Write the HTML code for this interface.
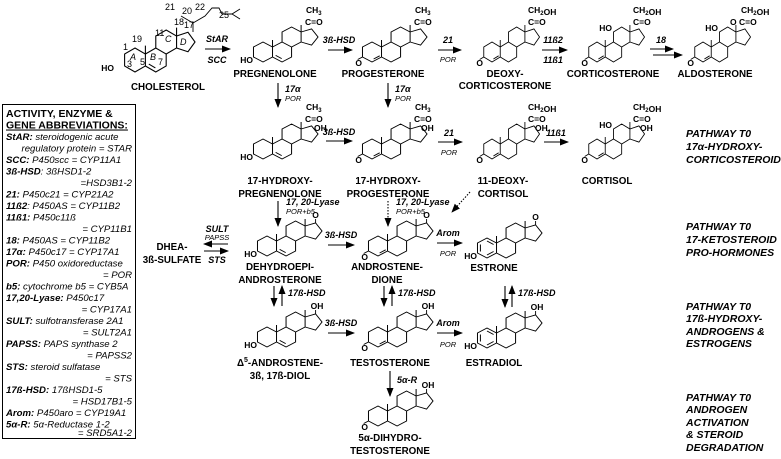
<!DOCTYPE html>
<html><head><meta charset="utf-8"><style>
html,body{margin:0;padding:0;background:#fff}
svg{display:block}
text{font-family:"Liberation Sans",Arial,sans-serif;fill:#000}
.l{font-size:9.8px;font-weight:bold;text-anchor:middle}
.s{font-size:8.5px;font-weight:bold}
.e{font-size:9px;font-weight:bold;font-style:italic}
.p{font-size:7.5px;font-style:italic}
.g{font-size:9.6px;font-style:italic}
.gb{font-weight:bold}
.r{font-size:10.5px;font-weight:bold;font-style:italic}
.n{font-size:9px}
</style></head><body>
<svg width="781" height="459" viewBox="0 0 781 459" xmlns="http://www.w3.org/2000/svg">
<defs>
<marker id="ah" markerWidth="9" markerHeight="8" refX="8" refY="3.5" orient="auto" markerUnits="userSpaceOnUse"><path d="M0,0 L9,3.5 L0,7 z" fill="#000"/></marker>
<g id="sk" fill="none" stroke="#000" stroke-width="0.9">
<path d="M0,-10 L8.66,-5 L8.66,5 L0,10 L-8.66,5 L-8.66,-5 Z"/>
<path d="M8.66,-5 L17.32,-10 L25.98,-5 L25.98,5 L17.32,10 L8.66,5"/>
<path d="M17.32,-10 L17.32,-20 L25.98,-25 L34.64,-20 L34.64,-10 L25.98,-5"/>
<path d="M34.64,-20 L44.15,-23.09 L50.03,-15 L44.15,-6.91 L34.64,-10"/>
<path d="M8.66,-5 L8.66,-12 M34.64,-20 L34.64,-27"/>
</g>
<g id="d5" stroke="#000" stroke-width="0.9"><path d="M11.5,3.4 L17,6.6"/></g>
<g id="d4" stroke="#000" stroke-width="0.9"><path d="M1.5,7 L7,3.8 M-8.66,5 L-13,7.5"/></g>
<g id="ar" stroke="#000" stroke-width="0.9"><path d="M0,-7 L6,-3.5 M6,3.5 L0,7 M-6,3.5 L-6,-3.5"/></g>
</defs>

<!-- Cholesterol -->
<g transform="translate(135,60) scale(1.2)"><use href="#sk"/><use href="#d5"/></g>
<path d="M193,32 L193,23 L181,16 M193,23 L205,16 L212,8 L219,8 L222,14 L232,14 L240,9 M232,14 L240,19" fill="none" stroke="#000" stroke-width="0.9"/>
<text class="n" x="165" y="10">21</text><text class="n" x="182" y="14">20</text><text class="n" x="195" y="10">22</text><text class="n" x="219" y="18">25</text>
<text class="n" x="174" y="25">18</text><text class="n" x="184" y="28">17</text><text class="n" x="155" y="36">11</text>
<text class="n" x="132" y="42">19</text><text class="n" x="123" y="50">1</text><text class="n" x="127" y="67">3</text>
<text class="n" x="140" y="65">5</text><text class="n" x="158" y="65">7</text>
<text class="n" x="130" y="60" font-style="italic">A</text><text class="n" x="150" y="60" font-style="italic">B</text>
<text class="n" x="165" y="42" font-style="italic">C</text><text class="n" x="180" y="45" font-style="italic">D</text>
<text class="s" x="114" y="71" text-anchor="end">HO</text>
<text class="l" x="168" y="90">CHOLESTEROL</text>

<!-- Row 1 (Y=52) -->
<g transform="translate(263,52) scale(1.1,1)"><use href="#sk"/><use href="#d5"/></g>
<text class="s" x="253" y="63" text-anchor="end">HO</text>
<text class="s" x="305" y="25">C=O</text><text class="s" x="306" y="13">CH<tspan font-size="6" dy="2">3</tspan></text>
<text class="l" x="275" y="77">PREGNENOLONE</text>

<g transform="translate(372,52) scale(1.1,1)"><use href="#sk"/><use href="#d4"/></g>
<text class="s" x="362" y="66" text-anchor="end">O</text>
<text class="s" x="414" y="25">C=O</text><text class="s" x="415" y="13">CH<tspan font-size="6" dy="2">3</tspan></text>
<text class="l" x="383" y="77">PROGESTERONE</text>

<g transform="translate(492,52) scale(0.95,1)"><use href="#sk"/><use href="#d4"/></g>
<text class="s" x="483" y="66" text-anchor="end">O</text>
<text class="s" x="528" y="25">C=O</text><text class="s" x="528" y="13">CH<tspan font-size="6" dy="2">2</tspan>OH</text>
<text class="l" x="505" y="77">DEOXY-</text><text class="l" x="505" y="89">CORTICOSTERONE</text>

<g transform="translate(597,52) scale(0.95,1)"><use href="#sk"/><use href="#d4"/></g>
<text class="s" x="588" y="66" text-anchor="end">O</text>
<text class="s" x="612" y="31" text-anchor="end">HO</text>
<text class="s" x="633" y="25">C=O</text><text class="s" x="633" y="13">CH<tspan font-size="6" dy="2">2</tspan>OH</text>
<text class="l" x="613" y="77">CORTICOSTERONE</text>

<g transform="translate(703,52) scale(0.95,1)"><use href="#sk"/><use href="#d4"/></g>
<text class="s" x="694" y="66" text-anchor="end">O</text>
<text class="s" x="718" y="31" text-anchor="end">HO</text>
<text class="s" x="730" y="25">O C=O</text><text class="s" x="741" y="13">CH<tspan font-size="6" dy="2">2</tspan>OH</text>
<text class="l" x="715" y="77">ALDOSTERONE</text>

<!-- Row 1 arrows -->
<line x1="205" y1="49" x2="230" y2="49" stroke="#000" stroke-width="1.1" marker-end="url(#ah)"/>
<text class="e" x="217" y="42" text-anchor="middle">StAR</text><text class="e" x="217" y="63" text-anchor="middle">SCC</text>
<line x1="328" y1="50" x2="352" y2="50" stroke="#000" stroke-width="1.1" marker-end="url(#ah)"/>
<text class="e" x="339" y="43" text-anchor="middle">3ß-HSD</text>
<line x1="438" y1="50" x2="461" y2="50" stroke="#000" stroke-width="1.1" marker-end="url(#ah)"/>
<text class="e" x="448" y="43" text-anchor="middle">21</text><text class="p" x="448" y="62" text-anchor="middle">POR</text>
<line x1="542" y1="50" x2="567" y2="50" stroke="#000" stroke-width="1.1" marker-end="url(#ah)"/>
<text class="e" x="553" y="43" text-anchor="middle">11ß2</text><text class="e" x="553" y="63" text-anchor="middle">11ß1</text>
<line x1="650" y1="49" x2="673" y2="49" stroke="#000" stroke-width="1.1" marker-end="url(#ah)"/>
<line x1="653" y1="55" x2="682" y2="55" stroke="#000" stroke-width="1.1" marker-end="url(#ah)"/>
<text class="e" x="661" y="43" text-anchor="middle">18</text>

<line x1="278" y1="83" x2="278" y2="107" stroke="#000" stroke-width="1.1" marker-end="url(#ah)"/>
<text class="e" x="285" y="92">17α</text><text class="p" x="285" y="101">POR</text>
<line x1="388" y1="83" x2="388" y2="107" stroke="#000" stroke-width="1.1" marker-end="url(#ah)"/>
<text class="e" x="395" y="92">17α</text><text class="p" x="395" y="101">POR</text>

<!-- Row 2 (Y=149) -->
<g transform="translate(263,149) scale(1.1,1)"><use href="#sk"/><use href="#d5"/></g>
<text class="s" x="253" y="160" text-anchor="end">HO</text>
<text class="s" x="305" y="122">C=O</text><text class="s" x="306" y="110">CH<tspan font-size="6" dy="2">3</tspan></text>
<text class="s" x="314" y="131">OH</text>
<text class="l" x="280" y="184">17-HYDROXY-</text><text class="l" x="280" y="197">PREGNENOLONE</text>

<g transform="translate(372,149) scale(1.1,1)"><use href="#sk"/><use href="#d4"/></g>
<text class="s" x="362" y="163" text-anchor="end">O</text>
<text class="s" x="414" y="122">C=O</text><text class="s" x="415" y="110">CH<tspan font-size="6" dy="2">3</tspan></text>
<text class="s" x="421" y="131">OH</text>
<text class="l" x="388" y="184">17-HYDROXY-</text><text class="l" x="388" y="197">PROGESTERONE</text>

<g transform="translate(492,149) scale(0.95,1)"><use href="#sk"/><use href="#d4"/></g>
<text class="s" x="483" y="163" text-anchor="end">O</text>
<text class="s" x="528" y="122">C=O</text><text class="s" x="528" y="110">CH<tspan font-size="6" dy="2">2</tspan>OH</text>
<text class="s" x="535" y="131">OH</text>
<text class="l" x="503" y="184">11-DEOXY-</text><text class="l" x="503" y="197">CORTISOL</text>

<g transform="translate(597,149) scale(0.95,1)"><use href="#sk"/><use href="#d4"/></g>
<text class="s" x="588" y="163" text-anchor="end">O</text>
<text class="s" x="612" y="128" text-anchor="end">HO</text>
<text class="s" x="633" y="122">C=O</text><text class="s" x="633" y="110">CH<tspan font-size="6" dy="2">2</tspan>OH</text>
<text class="s" x="640" y="131">OH</text>
<text class="l" x="607" y="184">CORTISOL</text>

<line x1="326" y1="141" x2="352" y2="141" stroke="#000" stroke-width="1.1" marker-end="url(#ah)"/>
<text class="e" x="339" y="135" text-anchor="middle">3ß-HSD</text>
<line x1="438" y1="142" x2="462" y2="142" stroke="#000" stroke-width="1.1" marker-end="url(#ah)"/>
<text class="e" x="449" y="136" text-anchor="middle">21</text><text class="p" x="449" y="155" text-anchor="middle">POR</text>
<line x1="544" y1="142" x2="568" y2="142" stroke="#000" stroke-width="1.1" marker-end="url(#ah)"/>
<text class="e" x="556" y="136" text-anchor="middle">11ß1</text>

<line x1="278" y1="201" x2="278" y2="226" stroke="#000" stroke-width="1.1" marker-end="url(#ah)"/>
<text class="e" x="286" y="205">17, 20-Lyase</text><text class="p" x="286" y="214">POR+b5</text>
<line x1="388" y1="201" x2="388" y2="226" stroke="#000" stroke-width="1.1" stroke-dasharray="1.5,1.5" marker-end="url(#ah)"/>
<text class="e" x="396" y="205">17, 20-Lyase</text><text class="p" x="396" y="214">POR+b5</text>
<line x1="470" y1="192" x2="452" y2="212" stroke="#000" stroke-width="1.1" stroke-dasharray="1.5,1.5" marker-end="url(#ah)"/>

<!-- Row 3 -->
<text class="l" x="172" y="250">DHEA-</text><text class="l" x="172" y="263">3ß-SULFATE</text>
<line x1="228" y1="244" x2="204" y2="244" stroke="#000" stroke-width="1.1" marker-end="url(#ah)"/>
<line x1="204" y1="251" x2="228" y2="251" stroke="#000" stroke-width="1.1" marker-end="url(#ah)"/>
<text class="e" x="217" y="232" text-anchor="middle">SULT</text><text class="p" x="217" y="240" text-anchor="middle">PAPSS</text>
<text class="e" x="217" y="263" text-anchor="middle">STS</text>

<g transform="translate(267,246) scale(1.1,1)"><use href="#sk"/><use href="#d5"/></g>
<path d="M315.6,223 L315.6,219" stroke="#000" stroke-width="0.9"/>
<text class="s" x="315.6" y="218" text-anchor="middle">O</text>
<text class="s" x="257" y="257" text-anchor="end">HO</text>
<text class="l" x="280" y="270">DEHYDROEPI-</text><text class="l" x="280" y="283">ANDROSTERONE</text>

<g transform="translate(378,246) scale(1.1,1)"><use href="#sk"/><use href="#d4"/></g>
<path d="M426.6,223 L426.6,219" stroke="#000" stroke-width="0.9"/>
<text class="s" x="426.6" y="218" text-anchor="middle">O</text>
<text class="s" x="368" y="260" text-anchor="end">O</text>
<text class="l" x="387" y="270">ANDROSTENE-</text><text class="l" x="387" y="283">DIONE</text>

<g transform="translate(487,248) scale(1.1,1)"><use href="#sk"/><use href="#ar"/></g>
<path d="M535.6,225 L535.6,221" stroke="#000" stroke-width="0.9"/>
<text class="s" x="535.6" y="220" text-anchor="middle">O</text>
<text class="s" x="477" y="259" text-anchor="end">HO</text>
<text class="l" x="494" y="271">ESTRONE</text>

<line x1="328" y1="245" x2="354" y2="245" stroke="#000" stroke-width="1.1" marker-end="url(#ah)"/>
<text class="e" x="341" y="238" text-anchor="middle">3ß-HSD</text>
<line x1="437" y1="243" x2="462" y2="243" stroke="#000" stroke-width="1.1" marker-end="url(#ah)"/>
<text class="e" x="448" y="236" text-anchor="middle">Arom</text><text class="p" x="448" y="256" text-anchor="middle">POR</text>

<!-- 17b-HSD -->
<line x1="274" y1="286" x2="274" y2="306" stroke="#000" stroke-width="1.1" marker-end="url(#ah)"/>
<line x1="282" y1="306" x2="282" y2="286" stroke="#000" stroke-width="1.1" marker-end="url(#ah)"/>
<text class="e" x="288" y="296">17ß-HSD</text>
<line x1="384" y1="286" x2="384" y2="306" stroke="#000" stroke-width="1.1" marker-end="url(#ah)"/>
<line x1="392" y1="306" x2="392" y2="286" stroke="#000" stroke-width="1.1" marker-end="url(#ah)"/>
<text class="e" x="398" y="296">17ß-HSD</text>
<line x1="505" y1="286" x2="505" y2="307" stroke="#000" stroke-width="1.1" marker-end="url(#ah)"/>
<line x1="512" y1="307" x2="512" y2="286" stroke="#000" stroke-width="1.1" marker-end="url(#ah)"/>
<text class="e" x="518" y="296">17ß-HSD</text>

<!-- Row 4 -->
<g transform="translate(267,337) scale(1.1,1)"><use href="#sk"/><use href="#d5"/></g>
<path d="M315.6,314 L315.6,310" stroke="#000" stroke-width="0.9"/>
<text class="s" x="317" y="309" text-anchor="middle">OH</text>
<text class="s" x="257" y="348" text-anchor="end">HO</text>
<text class="l" x="280" y="366">Δ<tspan font-size="7" dy="-4">5</tspan><tspan dy="4">-ANDROSTENE-</tspan></text>
<text class="l" x="280" y="379">3ß, 17ß-DIOL</text>

<g transform="translate(378,337) scale(1.1,1)"><use href="#sk"/><use href="#d4"/></g>
<path d="M426.6,314 L426.6,310" stroke="#000" stroke-width="0.9"/>
<text class="s" x="428" y="309" text-anchor="middle">OH</text>
<text class="s" x="368" y="351" text-anchor="end">O</text>
<text class="l" x="390" y="366">TESTOSTERONE</text>

<g transform="translate(487,338) scale(1.1,1)"><use href="#sk"/><use href="#ar"/></g>
<path d="M535.6,315 L535.6,311" stroke="#000" stroke-width="0.9"/>
<text class="s" x="537" y="310" text-anchor="middle">OH</text>
<text class="s" x="477" y="349" text-anchor="end">HO</text>
<text class="l" x="494" y="366">ESTRADIOL</text>

<line x1="328" y1="333" x2="354" y2="333" stroke="#000" stroke-width="1.1" marker-end="url(#ah)"/>
<text class="e" x="341" y="326" text-anchor="middle">3ß-HSD</text>
<line x1="437" y1="333" x2="462" y2="333" stroke="#000" stroke-width="1.1" marker-end="url(#ah)"/>
<text class="e" x="448" y="326" text-anchor="middle">Arom</text><text class="p" x="448" y="347" text-anchor="middle">POR</text>

<line x1="390" y1="371" x2="390" y2="396" stroke="#000" stroke-width="1.1" marker-end="url(#ah)"/>
<text class="e" x="397" y="383">5α-R</text>

<!-- Row 5 -->
<g transform="translate(378,416) scale(1.1,1)"><use href="#sk"/><path d="M-8.66,5 L-13,7.5" stroke="#000" stroke-width="0.9"/></g>
<path d="M426.6,393 L426.6,389" stroke="#000" stroke-width="0.9"/>
<text class="s" x="428" y="388" text-anchor="middle">OH</text>
<text class="s" x="368" y="430" text-anchor="end">O</text>
<text class="l" x="390" y="441">5α-DIHYDRO-</text><text class="l" x="390" y="454">TESTOSTERONE</text>

<!-- Right side -->
<text class="r" x="686" y="137">PATHWAY T0</text><text class="r" x="686" y="150">17α-HYDROXY-</text><text class="r" x="686" y="163">CORTICOSTEROIDS</text>
<text class="r" x="686" y="230">PATHWAY T0</text><text class="r" x="686" y="243">17-KETOSTEROID</text><text class="r" x="686" y="256">PRO-HORMONES</text>
<text class="r" x="686" y="310">PATHWAY T0</text><text class="r" x="686" y="322">17ß-HYDROXY-</text><text class="r" x="686" y="335">ANDROGENS &amp;</text><text class="r" x="686" y="347">ESTROGENS</text>
<text class="r" x="686" y="401">PATHWAY T0</text><text class="r" x="686" y="413">ANDROGEN</text><text class="r" x="686" y="426">ACTIVATION</text><text class="r" x="686" y="438">&amp; STEROID</text><text class="r" x="686" y="451">DEGRADATION</text>

<!-- Legend -->
<rect x="2.5" y="104.5" width="133" height="334" fill="none" stroke="#000" stroke-width="1"/>
<g class="g">
<text x="6" y="117" font-weight="bold" font-style="normal" font-size="10.5">ACTIVITY, ENZYME &amp;</text>
<text x="6" y="128.5" font-weight="bold" font-style="normal" font-size="10.5" text-decoration="underline">GENE ABBREVIATIONS:</text>
<text x="6" y="140"><tspan class="gb">StAR:</tspan> steroidogenic acute</text>
<text x="132" y="151.5" text-anchor="end">regulatory protein = STAR</text>
<text x="6" y="163"><tspan class="gb">SCC:</tspan> P450scc  = CYP11A1</text>
<text x="6" y="174.5"><tspan class="gb">3ß-HSD</tspan>: 3ßHSD1-2</text>
<text x="132" y="186" text-anchor="end">=HSD3B1-2</text>
<text x="6" y="197.5"><tspan class="gb">21:</tspan> P450c21    =  CYP21A2</text>
<text x="6" y="209"><tspan class="gb">11ß2</tspan>:  P450AS  = CYP11B2</text>
<text x="6" y="220.5"><tspan class="gb">11ß1:</tspan>  P450c11ß</text>
<text x="132" y="232" text-anchor="end">= CYP11B1</text>
<text x="6" y="243.5"><tspan class="gb">18:</tspan>  P450AS     = CYP11B2</text>
<text x="6" y="255"><tspan class="gb">17α:</tspan> P450c17  = CYP17A1</text>
<text x="6" y="266.5"><tspan class="gb">POR:</tspan> P450 oxidoreductase</text>
<text x="132" y="278" text-anchor="end">= POR</text>
<text x="6" y="289.5"><tspan class="gb">b5:</tspan> cytochrome b5 = CYB5A</text>
<text x="6" y="301"><tspan class="gb">17,20-Lyase:</tspan> P450c17</text>
<text x="132" y="312.5" text-anchor="end">= CYP17A1</text>
<text x="6" y="324"><tspan class="gb">SULT:</tspan> sulfotransferase 2A1</text>
<text x="132" y="335.5" text-anchor="end">= SULT2A1</text>
<text x="6" y="347"><tspan class="gb">PAPSS:</tspan> PAPS synthase  2</text>
<text x="132" y="358.5" text-anchor="end">= PAPSS2</text>
<text x="6" y="370"><tspan class="gb">STS:</tspan> steroid sulfatase</text>
<text x="132" y="381.5" text-anchor="end">= STS</text>
<text x="6" y="393"><tspan class="gb">17ß-HSD:</tspan> 17ßHSD1-5</text>
<text x="132" y="404.5" text-anchor="end">= HSD17B1-5</text>
<text x="6" y="416"><tspan class="gb">Arom:</tspan> P450aro  = CYP19A1</text>
<text x="6" y="427.5"><tspan class="gb">5α-R:</tspan> 5α-Reductase 1-2</text>
<text x="132" y="436" text-anchor="end">= SRD5A1-2</text>
</g>
</svg>
</body></html>
